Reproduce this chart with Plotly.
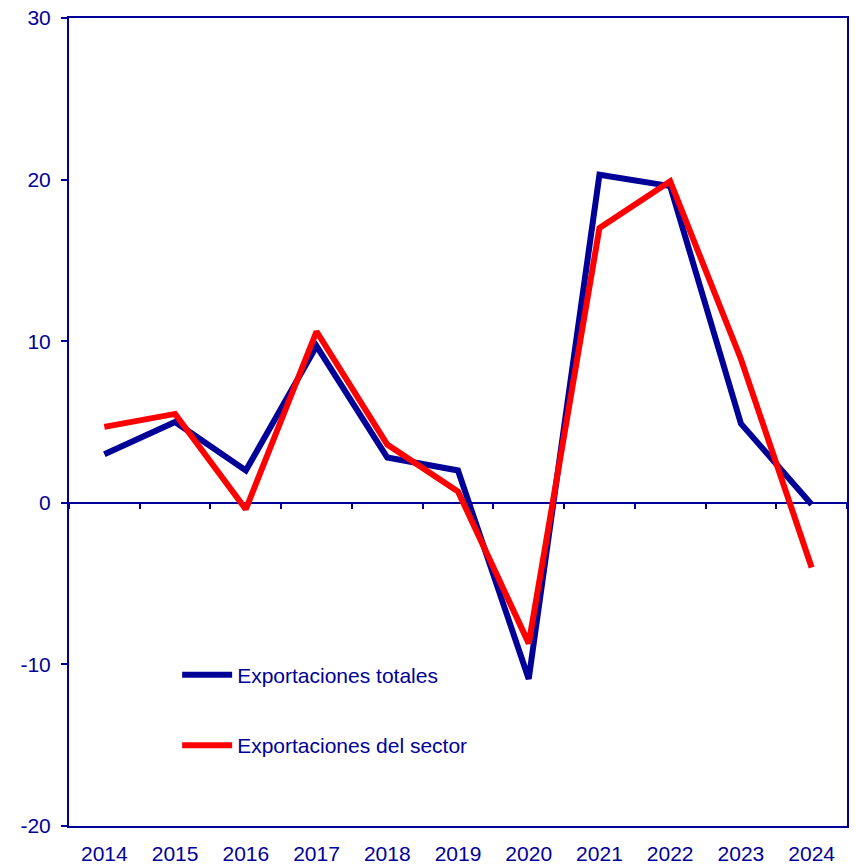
import plotly.graph_objects as go

# Annual growth of exports (%)
years = ["2014", "2015", "2016", "2017", "2018", "2019",
         "2020", "2021", "2022", "2023", "2024"]
exp_totales = [3.0, 5.0, 2.0, 9.7, 2.8, 2.0, -10.9, 20.3, 19.6, 4.9, -0.1]
exp_sector = [4.7, 5.5, -0.4, 10.6, 3.6, 0.7, -8.7, 17.0, 19.9, 8.9, -4.0]
y_ticks = [-20, -10, 0, 10, 20, 30]
y_ticklabels = ["-20", "-10", "0", "10", "20", "30"]

NAVY = "#000099"
FONT = dict(family="Liberation Sans, Arial, sans-serif", size=21, color=NAVY)

fig = go.Figure()

fig.add_trace(go.Scatter(
    x=years, y=exp_totales, mode="lines", name="Exportaciones totales",
    line=dict(color=NAVY, width=6), legendgroup="a",
))
fig.add_trace(go.Scatter(
    x=years, y=exp_sector, mode="lines", name="Exportaciones del sector",
    line=dict(color="#ff0000", width=6), legendgroup="b",
))
# invisible trace so the tick-only axis along the zero line gets drawn
fig.add_trace(go.Scatter(
    x=years, y=[None] * len(years), xaxis="x2", showlegend=False,
    hoverinfo="skip",
))

fig.update_layout(
    width=856, height=864,
    margin=dict(l=69, r=9, t=18, b=38),
    plot_bgcolor="white",
    paper_bgcolor="white",
    font=FONT,
    showlegend=True,
    legend=dict(
        x=0.139, y=0.212, xanchor="left", yanchor="top",
        bgcolor="rgba(0,0,0,0)", font=FONT,
        traceorder="grouped", tracegroupgap=40, itemwidth=50,
    ),
    xaxis=dict(
        type="category", range=[-0.5, 10.5], automargin=False,
        showline=True, linecolor=NAVY, linewidth=2, mirror=True,
        ticks="", showgrid=False, tickfont=FONT, ticklabelstandoff=8,
    ),
    xaxis2=dict(
        type="category", overlaying="x", matches="x",
        anchor="free", position=0.4,
        showline=False, ticks="outside", tickson="boundaries",
        ticklen=5, tickwidth=1.5, tickcolor=NAVY,
        showticklabels=False, showgrid=False,
    ),
    yaxis=dict(
        range=[-20, 30], tickvals=y_ticks, ticktext=y_ticklabels,
        automargin=False, ticklabeloverflow="allow",
        showline=True, linecolor=NAVY, linewidth=2, mirror=True,
        ticks="outside", ticklen=6, tickwidth=1.5, tickcolor=NAVY,
        showgrid=False, zeroline=True, zerolinecolor=NAVY, zerolinewidth=1.5,
        tickfont=FONT, ticklabelstandoff=6,
    ),
)

# drop the default 8px body margin so the figure fills the window exactly
fig.write_html(
    "out.html",
    config={"displayModeBar": False},
    post_script="document.body.style.margin = '0';",
)
